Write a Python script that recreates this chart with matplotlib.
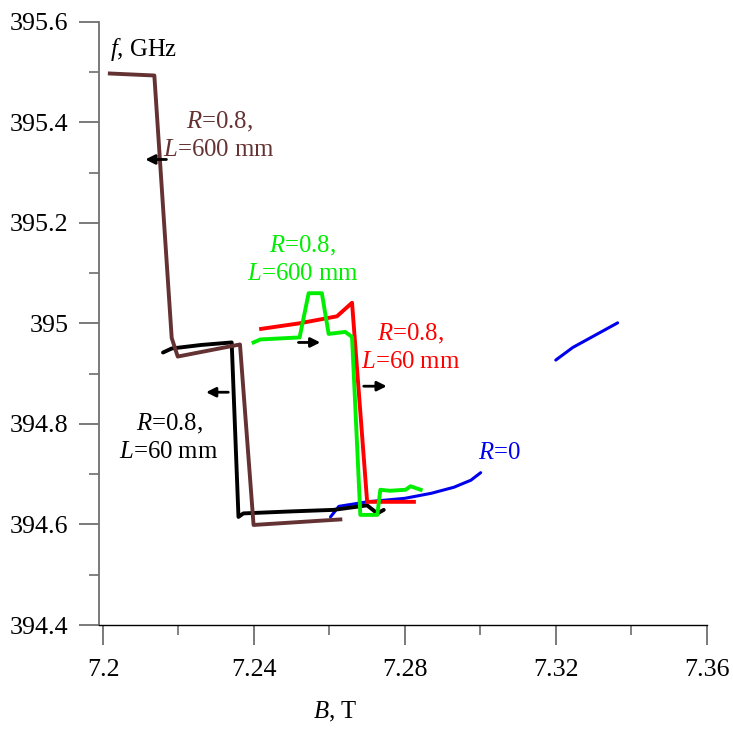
import matplotlib
matplotlib.use("Agg")
import matplotlib.pyplot as plt
from matplotlib.ticker import MultipleLocator, FixedFormatter, FixedLocator

plt.rcParams['font.family'] = ['Liberation Serif', 'DejaVu Serif']
plt.rcParams['mathtext.fontset'] = 'custom'
plt.rcParams['mathtext.it'] = 'Liberation Serif:italic'
plt.rcParams['mathtext.rm'] = 'Liberation Serif'

# R=0.8, L=600 mm, decreasing B (brown)
brown_b = [7.2018, 7.2136, 7.2182, 7.2198, 7.2363, 7.2399, 7.2629]
brown_f = [395.497, 395.493, 394.971, 394.934, 394.958, 394.599, 394.610]

# R=0.8, L=60 mm, decreasing B (black)
black_b = [7.2159, 7.2182, 7.2260, 7.2341, 7.2359, 7.2372, 7.2500, 7.2611, 7.2700, 7.2727, 7.2744]
black_f = [394.942, 394.950, 394.957, 394.962, 394.615, 394.622, 394.626, 394.629, 394.638, 394.622, 394.629]

# R=0.8, L=60 mm, increasing B (red)
red_b = [7.2419, 7.2520, 7.2620, 7.2660, 7.2700, 7.2824]
red_f = [394.989, 395.000, 395.014, 395.041, 394.645, 394.645]

# R=0.8, L=600 mm, increasing B (green)
green_b = [7.2399, 7.2417, 7.2521, 7.2545, 7.2580, 7.2598, 7.2642, 7.2660,
           7.2682, 7.2727, 7.2735, 7.2760, 7.2802, 7.2815, 7.2842]
green_f = [394.962, 394.968, 394.972, 395.060, 395.060, 394.979, 394.983, 394.973,
           394.619, 394.619, 394.669, 394.667, 394.669, 394.676, 394.669]

# R=0
blue_lo_b = [7.2603, 7.2625, 7.2700, 7.2800, 7.2870, 7.2930, 7.2975, 7.3001]
blue_lo_f = [394.615, 394.636, 394.645, 394.652, 394.662, 394.674, 394.688, 394.703]
blue_hi_b = [7.3200, 7.3245, 7.3364]
blue_hi_f = [394.927, 394.952, 395.001]

# scan direction arrows: (tail B, head B, f)
arrows = [(7.2168, 7.2112, 395.326), (7.2332, 7.2273, 394.863),
          (7.2518, 7.2576, 394.962), (7.2691, 7.2752, 394.875)]

x_ticks = [7.2, 7.24, 7.28, 7.32, 7.36]
x_labels = ['7.2', '7.24', '7.28', '7.32', '7.36']
y_ticks = [394.4, 394.6, 394.8, 395.0, 395.2, 395.4, 395.6]
y_labels = ['394.4', '394.6', '394.8', '395', '395.2', '395.4', '395.6']

brown = '#643232'
green = '#00ee00'
red = '#ff0000'
blue = '#0000ee'

fig = plt.figure(figsize=(7.33, 7.31), dpi=100)
ax = fig.add_axes([0.1351, 0.1450, 0.8290, 0.8253])

ax.plot(blue_lo_b, blue_lo_f, color=blue, lw=2.2, solid_capstyle='round')
ax.plot(blue_hi_b, blue_hi_f, color=blue, lw=2.2, solid_capstyle='round')
ax.plot(black_b, black_f, color='black', lw=2.8, solid_capstyle='round')
ax.plot(brown_b, brown_f, color=brown, lw=2.8)
ax.plot(red_b, red_f, color=red, lw=2.8)
ax.plot(green_b, green_f, color=green, lw=2.8)

for x0, x1, y in arrows:
    ax.annotate('', xy=(x1, y), xytext=(x0, y),
                arrowprops=dict(arrowstyle='-|>', color='black', lw=2.0,
                                mutation_scale=14, shrinkA=0, shrinkB=0))

fs = 17.8
ls = 1.3
ax.text(7.2018, 395.544, r'$\mathit{f}$, GHz', fontsize=fs, va='center', ha='left')
ax.text(7.2308, 395.374, r'$\mathit{R}$=0.8,' + '\n' + r'$\mathit{L}$=600 mm', color=brown,
        fontsize=fs, ha='center', va='center', linespacing=ls)
ax.text(7.2529, 395.127, r'$\mathit{R}$=0.8,' + '\n' + r'$\mathit{L}$=600 mm', color=green,
        fontsize=fs, ha='center', va='center', linespacing=ls)
ax.text(7.2816, 394.952, r'$\mathit{R}$=0.8,' + '\n' + r'$\mathit{L}$=60 mm', color=red,
        fontsize=fs, ha='center', va='center', linespacing=ls)
ax.text(7.2175, 394.773, r'$\mathit{R}$=0.8,' + '\n' + r'$\mathit{L}$=60 mm', color='black',
        fontsize=fs, ha='center', va='center', linespacing=ls)
ax.text(7.2995, 394.742, r'$\mathit{R}$=0', color=blue, fontsize=fs, ha='left', va='center')

# y axis sits a few pixels left of B = 7.2
ax.set_xlim(7.19894, 7.36)
ax.set_ylim(394.4, 395.6)
ax.xaxis.set_major_locator(FixedLocator(x_ticks))
ax.xaxis.set_major_formatter(FixedFormatter(x_labels))
ax.yaxis.set_major_locator(FixedLocator(y_ticks))
ax.yaxis.set_major_formatter(FixedFormatter(y_labels))
ax.xaxis.set_minor_locator(FixedLocator([7.22, 7.26, 7.30, 7.34]))
ax.yaxis.set_minor_locator(MultipleLocator(0.1))

for s in ['top', 'right']:
    ax.spines[s].set_visible(False)
ax.spines['left'].set_color('#707070')
ax.spines['left'].set_linewidth(1.3)
ax.spines['bottom'].set_color('black')
ax.spines['bottom'].set_linewidth(1.0)

ax.tick_params(axis='both', which='major', length=14.5, width=1.3, color='#707070',
               labelsize=18.7)
ax.tick_params(axis='both', which='minor', length=7.5, width=1.1, color='#606060')
ax.tick_params(axis='x', which='major', pad=10)
ax.tick_params(axis='y', which='major', pad=7.5)

ax.text(0.388, -0.144, r'$\mathit{B}$, T', fontsize=fs, ha='center', va='center',
        transform=ax.transAxes)

fig.savefig('out.png', dpi=100)
